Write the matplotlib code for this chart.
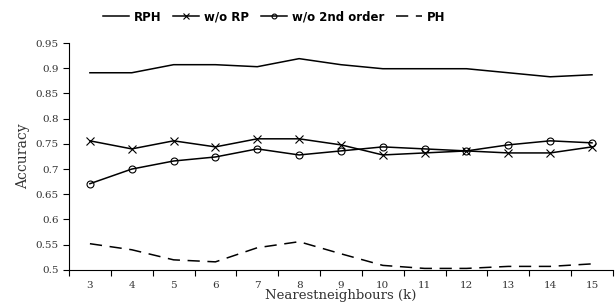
import matplotlib.pyplot as plt
import numpy as np

k = [3, 4, 5, 6, 7, 8, 9, 10, 11, 12, 13, 14, 15]
rph = [0.891, 0.891, 0.907, 0.907, 0.903, 0.919, 0.907, 0.899, 0.899, 0.899, 0.891, 0.883, 0.887]
wo_rp = [0.756, 0.740, 0.756, 0.744, 0.760, 0.760, 0.748, 0.728, 0.732, 0.736, 0.732, 0.732, 0.744]
wo_2nd = [0.671, 0.700, 0.716, 0.724, 0.740, 0.728, 0.736, 0.744, 0.740, 0.736, 0.748, 0.756, 0.752]
ph = [0.552, 0.540, 0.520, 0.516, 0.544, 0.556, 0.532, 0.509, 0.503, 0.503, 0.507, 0.507, 0.512]
yticks = [0.5, 0.55, 0.6, 0.65, 0.7, 0.75, 0.8, 0.85, 0.9, 0.95]

fig = plt.figure(figsize=(6.16, 3.05), dpi=100)
ax = fig.add_axes([0.112, 0.115, 0.883, 0.744])

ax.plot(k, rph, color="black", lw=1.1, label="RPH")
ax.plot(k, wo_rp, color="black", lw=1.1, marker="x", ms=5.5, mew=0.8, label="w/o RP")
ax.plot(k, wo_2nd, color="black", lw=1.1, marker="o", ms=5, mfc="none", mew=0.8, label="w/o 2nd order")
ax.plot(k, ph, color="black", lw=1.1, dashes=(8, 5), label="PH")

ax.set_xlim(2.5, 15.5)
ax.set_ylim(0.5, 0.95)
ax.set_xticks(np.arange(2.5, 16, 1))
ax.set_xticklabels([])
ax.set_xticks(k, minor=True)
ax.set_xticklabels([str(v) for v in k], minor=True)
ax.tick_params(axis="x", which="minor", length=0, pad=8, labelsize=7.5, labelcolor="#333333")
ax.tick_params(axis="x", which="major", length=4, direction="out")
ax.set_yticks(yticks)
ax.set_yticklabels([f"{v:g}" for v in yticks])
ax.tick_params(axis="y", length=4, direction="out", labelsize=7.5, labelcolor="#333333")
for lab in ax.get_xticklabels(minor=True) + ax.get_yticklabels():
    lab.set_family("DejaVu Serif")

ax.spines["top"].set_visible(False)
ax.spines["right"].set_visible(False)

ax.set_ylabel("Accuracy", family="DejaVu Serif", fontsize=10, color="#333333")
ax.set_xlabel("Nearestneighbours (k)", family="DejaVu Serif", fontsize=9.5, color="#333333", labelpad=-1)

fig.legend(loc="upper center", bbox_to_anchor=(0.445, 1.0), ncol=4, frameon=False,
           prop={"weight": "heavy", "size": 8.5, "family": "DejaVu Sans"},
           handlelength=2.2, handletextpad=0.4, columnspacing=1.0, markerscale=0.7)

plt.savefig("out.png", dpi=100)
